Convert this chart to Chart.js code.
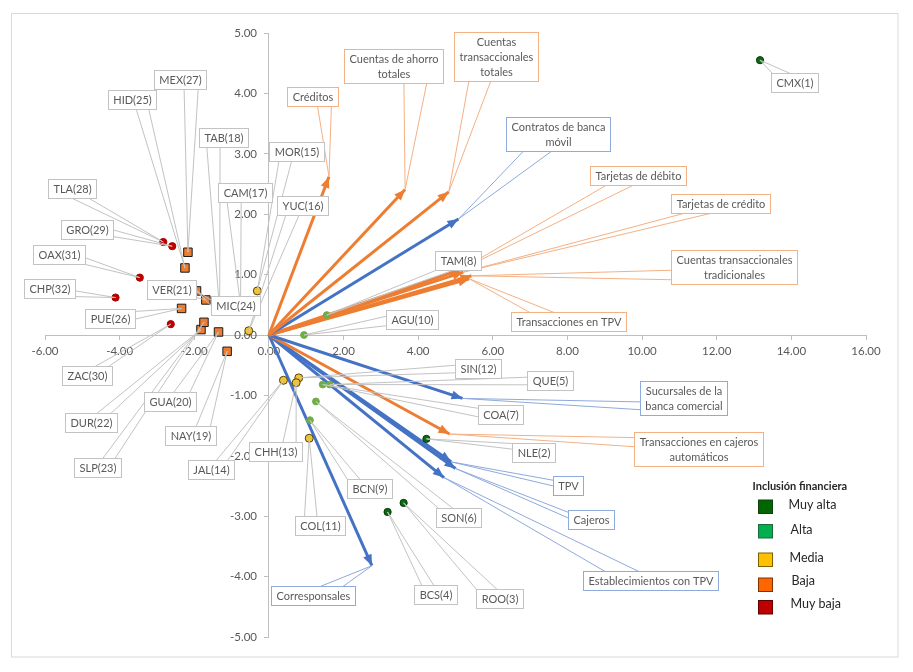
<!DOCTYPE html>
<html>
<head>
<meta charset="utf-8">
<script src="https://cdn.jsdelivr.net/npm/chart.js@4.4.1/dist/chart.umd.min.js"></script>
<style>
  html, body { margin: 0; padding: 0; background: #fff; }
  #wrap { width: 913px; height: 672px; }
</style>
</head>
<body>
<div id="wrap"><canvas id="biplot" width="913" height="672"></canvas></div>
<script>
// entidades (puntuaciones) y su nivel de inclusion financiera
const stateCodes = ['CMX(1)', 'NLE(2)', 'ROO(3)', 'BCS(4)', 'QUE(5)', 'SON(6)', 'COA(7)', 'TAM(8)',
  'BCN(9)', 'AGU(10)', 'COL(11)', 'SIN(12)', 'CHH(13)', 'JAL(14)', 'MOR(15)', 'YUC(16)',
  'CAM(17)', 'TAB(18)', 'NAY(19)', 'GUA(20)', 'VER(21)', 'DUR(22)', 'SLP(23)', 'MIC(24)',
  'HID(25)', 'PUE(26)', 'MEX(27)', 'TLA(28)', 'GRO(29)', 'ZAC(30)', 'OAX(31)', 'CHP(32)'];
const stateX = [13.16, 4.22, 3.61, 3.18, 1.63, 1.26, 1.44, 1.55,
  1.10, 0.94, 1.08, 0.80, 0.73, 0.39, -0.31, -0.54,
  -0.76, -1.32, -1.12, -1.35, -1.69, -1.82, -1.74, -1.94,
  -2.25, -2.34, -2.17, -2.83, -2.59, -2.63, -3.46, -4.11];
const stateY = [4.55, -1.72, -2.78, -2.93, -0.82, -1.10, -0.82, 0.33,
  -1.41, 0.00, -1.71, -0.71, -0.79, -0.75, 0.73, 0.07,
  0.50, 0.41, -0.27, 0.05, 0.58, 0.09, 0.21, 0.73,
  1.11, 0.44, 1.37, 1.54, 1.47, 0.18, 0.95, 0.62];
const stateLevel = [0, 0, 0, 0, 1, 1, 1, 1, 1, 1, 2, 2, 2, 2, 2, 2,
  3, 3, 3, 3, 3, 3, 3, 3, 3, 3, 3, 4, 4, 4, 4, 4];
const levelNames = ['Muy alta', 'Alta', 'Media', 'Baja', 'Muy baja'];

// variables (cargas)
const vectorNames = ['Créditos', 'Cuentas de ahorro totales', 'Cuentas transaccionales totales',
  'Contratos de banca móvil', 'Tarjetas de débito', 'Tarjetas de crédito',
  'Cuentas transaccionales tradicionales', 'Transacciones en TPV',
  'Sucursales de la banca comercial', 'Transacciones en cajeros automáticos',
  'TPV', 'Cajeros', 'Establecimientos con TPV', 'Corresponsales'];
const vectorX = [1.61, 3.65, 4.82, 5.08, 5.13, 5.21, 5.43, 5.37, 5.19, 4.84, 4.88, 5.00, 4.69, 2.76];
const vectorY = [2.62, 2.41, 2.37, 1.92, 1.08, 1.04, 0.98, 0.93, -1.05, -1.64, -2.10, -2.21, -2.36, -3.82];
const vectorKind = ['o', 'o', 'o', 'b', 'o', 'o', 'o', 'o', 'b', 'o', 'b', 'b', 'b', 'b'];

const xMin = -6, xMax = 16, xStep = 2;
const yMin = -5, yMax = 5, yStep = 1;

// estilos
const levelStyle = [
  { fill: '#0b6a12', stroke: '#053b08', shape: 'circle', r: 3.6 },
  { fill: '#70ad47', stroke: '#70ad47', shape: 'circle', r: 3.4 },
  { fill: '#f2c233', stroke: '#4f4212', shape: 'circle', r: 4 },
  { fill: '#ed7d31', stroke: '#1a1a1a', shape: 'rect', r: 6 },
  { fill: '#c00000', stroke: '#b00000', shape: 'circle', r: 3.6 }
];
const vectorColor = { o: '#ed7d31', b: '#4472c4' };
const leaderColor = { s: '#c3c3c3', o: '#f4b183', b: '#8faadc' };
const legendFill = ['#006600', '#00b050', '#ffc000', '#ff6600', '#c00000'];
const legendEdge = ['#123f12', '#1d6b3c', '#7f6000', '#7f3300', '#5c0000'];
const textFont = '11px Lato';
const textColor = '#595959';

// posicion de las etiquetas (px): centro x, centro y, lado del conector, fracciones del lado
const stateCallout = [
  [794.5, 82.3, 't', 0.02, 0.4], [533.7, 452.5, 'l', 0.0, 0.3], [499.3, 598.8, 't', 0.0, 0.44], [435.3, 594.8, 't', 0.17, 0.45],
  [549.7, 380.8, 'l', 0.3, 0.7], [458.8, 517.2, 't', 0.05, 0.37], [500.8, 414.2, 'l', 0.15, 0.6], [457.7, 260.8, 'b', 0.0, 0.37],
  [369.2, 488.3, 't', 0.0, 0.28], [411.7, 319.2, 'l', 0.3, 0.8], [320.0, 525.0, 't', 0.18, 0.43], [477.7, 368.0, 'l', 0.3, 0.7],
  [275.7, 451.3, 't', 0.63, 0.88], [211.3, 469.5, 't', 0.6, 0.85], [296.0, 151.0, 'b', 0.17, 0.4], [302.7, 205.0, 'b', 0.16, 0.42],
  [244.7, 192.0, 'b', 0.16, 0.42], [223.0, 137.7, 'b', 0.15, 0.42], [189.8, 435.8, 't', 0.6, 0.88], [170.3, 401.5, 't', 0.56, 0.87],
  [171.3, 289.7, 'r', 0.5, 0.9], [90.7, 422.0, 't', 0.6, 0.87], [97.3, 467.2, 't', 0.6, 0.86], [235.5, 305.3, 'l', 0.2, 0.5],
  [132.0, 99.5, 'b', 0.58, 0.84], [110.0, 318.8, 'r', 0.1, 0.5], [180.5, 79.0, 'b', 0.57, 0.84], [72.2, 188.2, 'b', 0.5, 0.85],
  [87.0, 229.8, 'r', 0.5, 0.85], [87.0, 375.3, 't', 0.65, 0.92], [59.2, 254.2, 'r', 0.65, 1.0], [49.3, 288.0, 'r', 0.6, 0.9]
];
const vectorCallout = [
  ['Créditos', 312.0, 96.7, 'b', 0.59, 0.86],
  ['Cuentas de ahorro\ntotales', 393.3, 66.3, 'b', 0.6, 0.83],
  ['Cuentas\ntransaccionales\ntotales', 495.5, 56.7, 'b', 0.17, 0.43],
  ['Contratos de banca\nmóvil', 557.5, 133.7, 'b', 0.16, 0.43],
  ['Tarjetas de débito', 638.0, 175.8, 'b', 0.16, 0.44],
  ['Tarjetas de crédito', 720.0, 203.3, 'b', 0.12, 0.39],
  ['Cuentas transaccionales\ntradicionales', 733.7, 267.3, 'l', 0.58, 0.86],
  ['Transacciones en TPV', 568.3, 321.5, 't', 0.16, 0.37],
  ['Sucursales de la\nbanca comercial', 683.8, 397.5, 'l', 0.6, 0.83],
  ['Transacciones en cajeros\nautomáticos', 698.0, 448.7, 'l', 0.15, 0.42],
  ['TPV', 568.7, 485.3, 'l', 0.2, 0.5],
  ['Cajeros', 591.0, 519.5, 'l', 0.1, 0.4],
  ['Establecimientos con TPV', 650.3, 580.8, 't', 0.16, 0.41],
  ['Corresponsales', 313.0, 595.2, 't', 0.58, 0.85]
];

// datasets
const datasets = [];
levelNames.forEach((name, lv) => {
  const st = levelStyle[lv];
  const pts = [];
  stateCodes.forEach((c, i) => { if (stateLevel[i] === lv) pts.push({ x: stateX[i], y: stateY[i] }); });
  datasets.push({
    label: name, data: pts, showLine: false,
    pointStyle: st.shape, pointRadius: st.r, pointHoverRadius: st.r,
    backgroundColor: st.fill, borderColor: st.stroke, borderWidth: 1
  });
});
vectorNames.forEach((name, i) => {
  datasets.push({
    label: name, isVector: true,
    data: [{ x: 0, y: 0 }, { x: vectorX[i], y: vectorY[i] }],
    showLine: true, pointRadius: 0, pointHoverRadius: 0,
    borderColor: vectorColor[vectorKind[i]], borderWidth: 3, fill: false
  });
});

const framePlugin = {
  id: 'frame',
  beforeDraw(chart) {
    const ctx = chart.ctx;
    ctx.save();
    ctx.fillStyle = '#fff';
    ctx.fillRect(0, 0, chart.width, chart.height);
    ctx.strokeStyle = '#d9d9d9';
    ctx.lineWidth = 1;
    ctx.strokeRect(11.5, 13.5, 886.5, 643.5);
    ctx.restore();
  }
};

const arrowPlugin = {
  id: 'arrows',
  afterDatasetDraw(chart, args) {
    const ds = chart.data.datasets[args.index];
    if (!ds.isVector) return;
    const pts = args.meta.data;
    const a = pts[0], b = pts[1];
    const ang = Math.atan2(b.y - a.y, b.x - a.x);
    const len = 11, half = 4.5;
    const ctx = chart.ctx;
    ctx.save();
    ctx.fillStyle = ds.borderColor;
    ctx.beginPath();
    ctx.moveTo(b.x, b.y);
    ctx.lineTo(b.x - len * Math.cos(ang) + half * Math.sin(ang), b.y - len * Math.sin(ang) - half * Math.cos(ang));
    ctx.lineTo(b.x - len * Math.cos(ang) - half * Math.sin(ang), b.y - len * Math.sin(ang) + half * Math.cos(ang));
    ctx.closePath();
    ctx.fill();
    ctx.restore();
  }
};

function anchorPoints(box, side, f1, f2) {
  if (side === 't') return [[box.x + box.w * f1, box.y], [box.x + box.w * f2, box.y]];
  if (side === 'b') return [[box.x + box.w * f1, box.y + box.h], [box.x + box.w * f2, box.y + box.h]];
  if (side === 'l') return [[box.x, box.y + box.h * f1], [box.x, box.y + box.h * f2]];
  return [[box.x + box.w, box.y + box.h * f1], [box.x + box.w, box.y + box.h * f2]];
}

const calloutPlugin = {
  id: 'callouts',
  afterDatasetsDraw(chart) {
    const { ctx, scales } = chart;
    const items = [];
    stateCodes.forEach((code, i) => {
      const L = stateCallout[i];
      items.push({ text: code, cx: L[0], cy: L[1], side: L[2], f1: L[3], f2: L[4],
        tx: scales.x.getPixelForValue(stateX[i]), ty: scales.y.getPixelForValue(stateY[i]), color: leaderColor.s });
    });
    vectorCallout.forEach((L, i) => {
      items.push({ text: L[0], cx: L[1], cy: L[2], side: L[3], f1: L[4], f2: L[5],
        tx: scales.x.getPixelForValue(vectorX[i]), ty: scales.y.getPixelForValue(vectorY[i]), color: leaderColor[vectorKind[i]] });
    });
    ctx.save();
    ctx.font = textFont;
    items.forEach(it => {
      it.lines = it.text.split('\n');
      const w = Math.max(...it.lines.map(l => ctx.measureText(l).width)) + 10;
      const h = it.lines.length * 15 + 4;
      it.box = { x: Math.round(it.cx - w / 2) + 0.5, y: Math.round(it.cy - h / 2) + 0.5, w: Math.round(w), h: Math.round(h) };
    });
    ctx.lineWidth = 1;
    items.forEach(it => {
      const [p1, p2] = anchorPoints(it.box, it.side, it.f1, it.f2);
      ctx.strokeStyle = it.color;
      ctx.beginPath();
      ctx.moveTo(p1[0], p1[1]);
      ctx.lineTo(it.tx, it.ty);
      ctx.lineTo(p2[0], p2[1]);
      ctx.stroke();
    });
    ctx.textAlign = 'center';
    ctx.textBaseline = 'middle';
    items.forEach(it => {
      const b = it.box;
      ctx.fillStyle = '#fff';
      ctx.fillRect(b.x, b.y, b.w, b.h);
      ctx.strokeStyle = it.color;
      ctx.strokeRect(b.x, b.y, b.w, b.h);
      ctx.fillStyle = textColor;
      it.lines.forEach((l, k) => {
        ctx.fillText(l, b.x + b.w / 2, b.y + 2 + 7.5 + k * 15);
      });
    });
    ctx.restore();
  }
};

const legendPlugin = {
  id: 'groupLegend',
  afterDraw(chart) {
    const ctx = chart.ctx;
    const tops = [500, 524.5, 553, 578, 600.5];
    const textY = [505, 530, 557.5, 580.5, 604];
    const textX = [788.5, 790.5, 789.5, 791.5, 790.5];
    ctx.save();
    ctx.fillStyle = '#262626';
    ctx.font = 'bold 11px Lato';
    ctx.textBaseline = 'middle';
    ctx.fillText('Inclusión financiera', 752.5, 486);
    ctx.font = '12.5px Lato';
    levelNames.forEach((name, i) => {
      ctx.fillStyle = legendFill[i];
      ctx.fillRect(758.5, tops[i], 14, 13.5);
      ctx.strokeStyle = legendEdge[i];
      ctx.lineWidth = 1;
      ctx.strokeRect(758.5, tops[i], 14, 13.5);
      ctx.fillStyle = '#262626';
      ctx.fillText(name, textX[i], textY[i]);
    });
    ctx.restore();
  }
};

const tickFont = { family: 'Lato', size: 11.5 };

new Chart(document.getElementById('biplot'), {
  type: 'scatter',
  data: { datasets },
  options: {
    responsive: false,
    animation: false,
    layout: { padding: { left: 45, right: 47, top: 33, bottom: 35 } },
    plugins: { legend: { display: false }, tooltip: { enabled: false } },
    scales: {
      x: {
        type: 'linear', min: xMin, max: xMax,
        position: { y: 0 },
        grid: { drawOnChartArea: false, drawTicks: true, tickLength: 4, color: '#bfbfbf' },
        border: { color: '#bfbfbf', width: 1 },
        ticks: { stepSize: xStep, padding: 5, color: textColor, font: tickFont,
          callback: v => v.toFixed(2) }
      },
      y: {
        type: 'linear', min: yMin, max: yMax,
        position: { x: 0 },
        grid: { drawOnChartArea: false, drawTicks: true, tickLength: 4, color: '#bfbfbf' },
        border: { color: '#bfbfbf', width: 1 },
        ticks: { stepSize: yStep, display: false }
      },
      // eje auxiliar solo para las etiquetas del eje y, desplazado a la izquierda del eje
      yLabels: {
        axis: 'y', type: 'linear', min: yMin, max: yMax,
        position: { x: -0.32 },
        grid: { display: false },
        border: { display: false },
        ticks: { stepSize: yStep, padding: 0, color: textColor, font: tickFont,
          callback: v => v.toFixed(2) }
      }
    }
  },
  plugins: [framePlugin, arrowPlugin, calloutPlugin, legendPlugin]
});
</script>
</body>
</html>
